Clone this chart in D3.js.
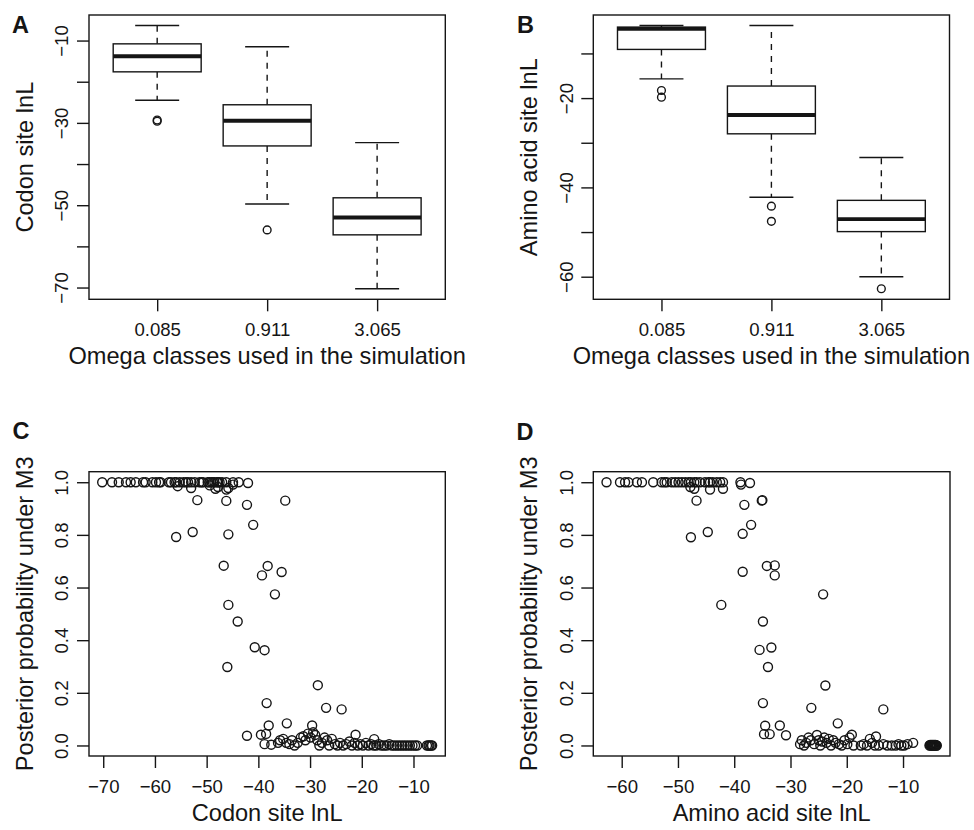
<!DOCTYPE html>
<html>
<head>
<meta charset="utf-8">
<script src="https://cdn.jsdelivr.net/npm/d3@7"></script>
<style>
  body { margin: 0; background: #fff; }
  svg { display: block; font-family: 'Liberation Sans', Arial, Helvetica, sans-serif; }
</style>
</head>
<body>
<div id="chart"></div>
<script>
// ---- data ----
const omegaClasses = ['0.085', '0.911', '3.065'];

// box stats: [lower whisker, Q1, median, Q3, upper whisker]
const codonBoxes = [
  [-24.5, -17.6, -13.8, -10.8, -6.35],
  [-49.7, -35.6, -29.5, -25.6, -11.5],
  [-70.3, -57.2, -53.0, -48.2, -34.8],
];
const codonOutliers = [[-29.3, -29.6], [-56.0], []];

const aminoBoxes = [
  [-15.7, -9.1, -4.5, -4.1, -3.75],
  [-42.2, -28.0, -23.8, -17.3, -3.75],
  [-60.0, -49.9, -47.1, -42.9, -33.3],
];
const aminoOutliers = [[-18.3, -19.8], [-44.2, -47.6], [-62.7]];

// panel C: codon site lnL vs posterior probability
const codonLnL = [
  -70.2, -68.3, -67.0, -65.6, -64.7, -63.7, -62.3, -61.8, -60.5, -59.8, -59.2, -58.9,
  -57.3, -56.9, -56.2, -55.9, -55.2, -54.5, -54.0, -53.6, -53.0, -52.3, -51.4, -51.0,
  -50.7, -49.8, -49.5, -49.1, -48.8, -48.5, -48.0, -47.8, -47.5, -47.0, -46.2, -44.9,
  -43.8, -42.0,
  -55.6, -53.0, -49.4, -47.8, -46.2, -45.8, -44.9, -48.3,
  -51.8, -46.2, -42.2, -34.8, -41.0, -55.9, -52.7, -45.8, -46.7, -39.3, -38.2, -35.5,
  -36.8, -45.8, -44.0, -40.7, -38.8, -46.0, -28.5, -38.4, -26.9, -23.9, -34.5, -38.0,
  -29.6, -42.2, -39.5, -38.5, -21.2, -17.6, -38.8, -37.5,
  -36.2, -35.8, -35.2, -34.6, -34.0, -33.5, -33.0, -32.4, -31.8, -31.3, -30.9, -30.4,
  -29.9, -29.4, -29.0, -28.6, -28.2, -27.7, -27.2, -26.7, -26.3, -25.8, -25.2, -24.7,
  -24.2, -23.6, -23.0, -22.4, -21.9, -21.4, -20.8, -20.3, -19.8, -19.2, -18.7, -18.2,
  -17.7, -17.2, -16.7, -16.2, -15.7, -15.2, -14.7, -14.2, -13.7, -13.2, -12.7, -12.2,
  -11.7, -11.2, -10.7, -10.2, -9.7, -9.3, -7.4, -7.1, -6.9, -6.6, -6.4,
];
const codonPost = [
  1, 1, 1, 1, 1, 1, 1, 1, 1, 1, 1, 1,
  1, 1, 1, 1, 1, 1, 1, 1, 1, 1, 1, 1,
  1, 1, 1, 1, 1, 1, 1, 1, 1, 1, 1, 1,
  1, 0.997,
  0.985, 0.978, 0.988, 0.982, 0.972, 0.978, 0.991, 0.975,
  0.932, 0.929, 0.914, 0.930, 0.838, 0.792, 0.811, 0.802, 0.683, 0.646, 0.682, 0.659,
  0.574, 0.534, 0.471, 0.373, 0.362, 0.298, 0.229, 0.161, 0.143, 0.137, 0.084, 0.076,
  0.076, 0.037, 0.041, 0.044, 0.041, 0.024, 0.005, 0.003,
  0.010, 0.020, 0.025, 0.010, 0.005, 0.020, 0.000, 0.010, 0.030, 0.035, 0.020, 0.045,
  0.030, 0.050, 0.040, 0.020, 0.000, 0.010, 0.030, 0.020, 0.000, 0.025, 0.005, 0.000,
  0.010, 0.000, 0.005, 0.015, 0.000, 0.010, 0.000, 0.005, 0.000, 0.010, 0.000, 0.005,
  0.000, 0.000, 0.005, 0.000, 0.000, 0.000, 0.005, 0.000, 0.000, 0.000, 0.000, 0.000,
  0.000, 0.000, 0.000, 0.000, 0.000, 0.000, 0.000, 0.000, 0.000, 0.000, 0.000,
];

// panel D: amino acid site lnL vs posterior probability
const aminoLnL = [
  -62.7, -60.3, -59.4, -58.8, -57.3, -56.4, -54.4, -52.9, -52.4, -52.0, -51.1, -50.5,
  -49.9, -49.3, -48.7, -48.1, -47.7, -47.1, -46.7, -46.1, -45.2, -44.6, -44.3, -43.8,
  -43.1, -42.5, -42.0, -38.9, -37.2,
  -47.8, -47.1, -44.3, -42.0, -38.8,
  -46.7, -35.0, -35.1, -38.2, -37.0, -47.7, -44.7, -38.5, -38.5, -34.2, -32.8, -32.8,
  -24.2, -42.3, -34.9, -35.5, -33.4, -34.0, -23.8, -34.9, -26.3, -13.5, -34.5, -31.9,
  -21.6, -34.7, -33.7, -30.8, -19.1, -14.8,
  -28.3, -28.0, -27.6, -27.2, -26.8, -26.4, -25.8, -25.3, -25.0, -24.7, -24.4, -24.0,
  -23.6, -23.2, -22.8, -22.4, -22.0, -21.4, -20.9, -20.4, -19.9, -19.5, -18.8, -17.5,
  -17.0, -16.4, -15.9, -15.5, -15.0, -14.3, -13.5, -12.8, -12.0, -11.3, -10.8, -10.3,
  -9.8, -9.2, -8.2,
  -5.3, -5.2, -5.1, -5.0, -4.9, -4.8, -4.7, -4.6, -4.5, -4.4, -4.3, -4.2, -4.1, -4.0,
];
const aminoPost = [
  1, 1, 1, 1, 1, 1, 1, 1, 1, 1, 1, 1,
  1, 1, 1, 1, 1, 1, 1, 1, 1, 1, 1, 1,
  1, 1, 1, 1, 0.997,
  0.982, 0.975, 0.972, 0.975, 0.991,
  0.930, 0.932, 0.930, 0.914, 0.838, 0.791, 0.811, 0.804, 0.660, 0.682, 0.684, 0.646,
  0.574, 0.534, 0.471, 0.363, 0.372, 0.298, 0.228, 0.161, 0.143, 0.137, 0.075, 0.076,
  0.084, 0.043, 0.043, 0.039, 0.041, 0.034,
  0.005, 0.020, 0.000, 0.010, 0.030, 0.020, 0.005, 0.040, 0.020, 0.000, 0.015, 0.030,
  0.010, 0.025, 0.000, 0.020, 0.010, 0.005, 0.000, 0.020, 0.005, 0.030, 0.000, 0.000,
  0.005, 0.000, 0.025, 0.010, 0.000, 0.000, 0.005, 0.000, 0.000, 0.000, 0.005, 0.000,
  0.000, 0.005, 0.010,
  0.000, 0.002, 0.000, 0.002, 0.000, 0.002, 0.000, 0.002, 0.000, 0.002, 0.000, 0.002, 0.000, 0.000,
];

// ticks
const codonBoxTicks = [-10, -20, -30, -40, -50, -60, -70];
const codonBoxLabels = [-10, -30, -50, -70];
const aminoBoxTicks = [-10, -20, -30, -40, -50, -60];
const aminoBoxLabels = [-20, -40, -60];
const codonLnLTicks = [-70, -60, -50, -40, -30, -20, -10];
const aminoLnLTicks = [-60, -50, -40, -30, -20, -10];
const probTicks = [0, 0.2, 0.4, 0.6, 0.8, 1.0];

// ---- layout ----
const width = 974;
const height = 830;
const tickFont = 18.6;
const titleFont = 23.6;
const ink = '#151515';

// R-style 4% axis extension
const extend = (lo, hi) => {
  const r = hi - lo;
  return [lo - 0.04 * r, hi + 0.04 * r];
};

const svg = d3.select('#chart')
  .append('svg')
  .attr('width', width)
  .attr('height', height);

function frame(p) {
  svg.append('rect')
    .attr('x', p.left)
    .attr('y', p.top)
    .attr('width', p.right - p.left)
    .attr('height', p.bottom - p.top)
    .attr('fill', 'none')
    .attr('stroke', ink)
    .attr('stroke-width', 1.4);
}

function styleAxis(g) {
  g.select('.domain').remove();
  g.selectAll('.tick line').attr('stroke', ink).attr('stroke-width', 1.4);
  g.selectAll('.tick text')
    .attr('fill', ink)
    .style('font-size', `${tickFont}px`)
    .style('font-family', "'Liberation Sans', Arial, sans-serif");
}

function leftAxis(p, y, ticks, labels, fmt) {
  const g = svg.append('g')
    .attr('transform', `translate(${p.left}, 0)`)
    .call(d3.axisLeft(y)
      .tickValues(ticks)
      .tickSize(12)
      .tickFormat(d => (labels.includes(d) ? fmt(d) : '')));
  styleAxis(g);
  g.selectAll('.tick text')
    .attr('x', 0)
    .attr('y', -20.6)
    .attr('dy', null)
    .attr('transform', 'rotate(-90)')
    .attr('text-anchor', 'middle');
}

function bottomAxis(p, x, ticks, fmt) {
  const g = svg.append('g')
    .attr('transform', `translate(0, ${p.bottom})`)
    .call(d3.axisBottom(x)
      .tickValues(ticks)
      .tickSize(12)
      .tickFormat(fmt));
  styleAxis(g);
  g.selectAll('.tick text')
    .attr('y', 37)
    .attr('dy', null);
}

function titles(p, letter, xTitle, yTitle) {
  svg.append('text')
    .attr('x', p.letterX)
    .attr('y', p.letterY)
    .attr('font-weight', 'bold')
    .attr('font-size', 23.5)
    .attr('fill', ink)
    .text(letter);

  svg.append('text')
    .attr('x', (p.left + p.right) / 2)
    .attr('y', p.bottom + 65)
    .attr('text-anchor', 'middle')
    .attr('font-size', titleFont)
    .attr('fill', ink)
    .text(xTitle);

  const cy = (p.top + p.bottom) / 2;
  svg.append('text')
    .attr('transform', `translate(${p.left - 56.5}, ${cy}) rotate(-90)`)
    .attr('text-anchor', 'middle')
    .attr('font-size', titleFont)
    .attr('fill', ink)
    .text(yTitle);
}

function boxPanel(p, boxes, outliers, ticks, labels, letter, yTitle) {
  const allVals = boxes.flat().concat(outliers.flat());
  const y = d3.scaleLinear()
    .domain(extend(d3.min(allVals), d3.max(allVals)))
    .range([p.bottom, p.top]);
  const x = d3.scaleLinear()
    .domain(extend(0.5, boxes.length + 0.5))
    .range([p.left, p.right]);

  const g = svg.append('g');
  boxes.forEach((b, i) => {
    const c = i + 1;
    const cx = x(c);
    const [lo, q1, med, q3, hi] = b;

    // dashed whiskers
    [[q3, hi], [q1, lo]].forEach(([a, bb]) => {
      g.append('line')
        .attr('x1', cx).attr('x2', cx)
        .attr('y1', y(a)).attr('y2', y(bb))
        .attr('stroke', ink)
        .attr('stroke-width', 1.4)
        .attr('stroke-dasharray', '6,6');
    });
    // staples
    [lo, hi].forEach(v => {
      g.append('line')
        .attr('x1', x(c - 0.2)).attr('x2', x(c + 0.2))
        .attr('y1', y(v)).attr('y2', y(v))
        .attr('stroke', ink)
        .attr('stroke-width', 1.4);
    });
    // box
    g.append('rect')
      .attr('x', x(c - 0.4))
      .attr('y', y(q3))
      .attr('width', x(c + 0.4) - x(c - 0.4))
      .attr('height', y(q1) - y(q3))
      .attr('fill', '#fff')
      .attr('stroke', ink)
      .attr('stroke-width', 1.4);
    // median
    g.append('line')
      .attr('x1', x(c - 0.4)).attr('x2', x(c + 0.4))
      .attr('y1', y(med)).attr('y2', y(med))
      .attr('stroke', ink)
      .attr('stroke-width', 3.9);
    // outliers
    g.selectAll(null)
      .data(outliers[i])
      .enter()
      .append('circle')
      .attr('cx', cx)
      .attr('cy', d => y(d))
      .attr('r', 3.9)
      .attr('fill', 'none')
      .attr('stroke', ink)
      .attr('stroke-width', 1.4);
  });

  frame(p);
  leftAxis(p, y, ticks, labels, d3.format('d'));
  bottomAxis(p, x, omegaClasses.map((d, i) => i + 1), d => omegaClasses[d - 1]);
  titles(p, letter, 'Omega classes used in the simulation', yTitle);
}

function scatterPanel(p, xs, ys, xTicks, letter, xTitle) {
  const x = d3.scaleLinear()
    .domain(extend(d3.min(xs), d3.max(xs)))
    .range([p.left, p.right]);
  const y = d3.scaleLinear()
    .domain(extend(0, 1))
    .range([p.bottom, p.top]);

  svg.append('g')
    .selectAll('circle')
    .data(xs.map((d, i) => [d, ys[i]]))
    .enter()
    .append('circle')
    .attr('cx', d => x(d[0]))
    .attr('cy', d => y(d[1]))
    .attr('r', 4.5)
    .attr('fill', 'none')
    .attr('stroke', ink)
    .attr('stroke-width', 1.4);

  frame(p);
  leftAxis(p, y, probTicks, probTicks, d3.format('.1f'));
  bottomAxis(p, x, xTicks, d3.format('d'));
  titles(p, letter, xTitle, 'Posterior probability under M3');
}

const panelA = { left: 89, right: 445.3, top: 15, bottom: 299.3, letterX: 12, letterY: 33.3 };
const panelB = { left: 593.3, right: 949.5, top: 15, bottom: 299.3, letterX: 517, letterY: 33.3 };
const panelC = { left: 89, right: 445.3, top: 471.7, bottom: 756, letterX: 12.5, letterY: 439.3 };
const panelD = { left: 593.3, right: 950, top: 471.7, bottom: 756, letterX: 516.5, letterY: 440 };

boxPanel(panelA, codonBoxes, codonOutliers, codonBoxTicks, codonBoxLabels, 'A', 'Codon site lnL');
boxPanel(panelB, aminoBoxes, aminoOutliers, aminoBoxTicks, aminoBoxLabels, 'B', 'Amino acid site lnL');
scatterPanel(panelC, codonLnL, codonPost, codonLnLTicks, 'C', 'Codon site lnL');
scatterPanel(panelD, aminoLnL, aminoPost, aminoLnLTicks, 'D', 'Amino acid site lnL');
</script>
</body>
</html>
